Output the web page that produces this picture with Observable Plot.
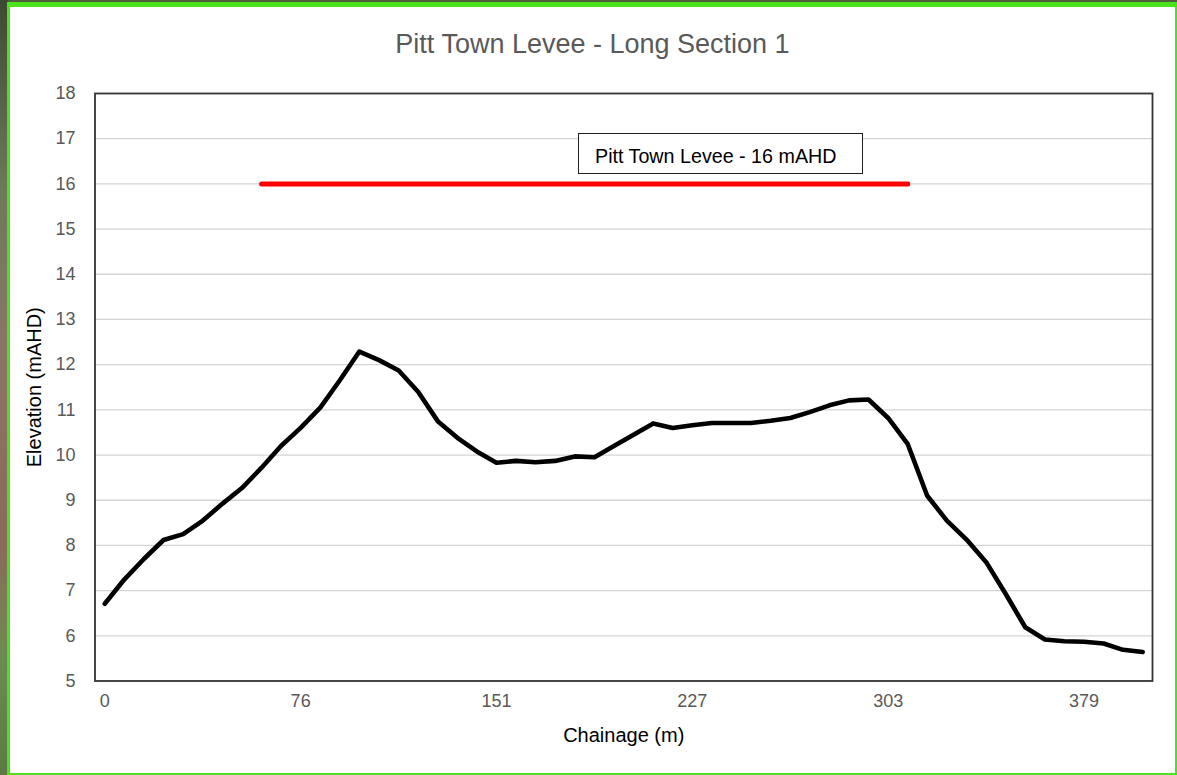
<!DOCTYPE html>
<html>
<head>
<meta charset="utf-8">
<script src="https://cdn.jsdelivr.net/npm/d3@7"></script>
<script src="https://cdn.jsdelivr.net/npm/@observablehq/plot@0.6"></script>
<style>
  html, body { margin: 0; padding: 0; width: 1177px; height: 775px; overflow: hidden; background: #4f5d3f; }
  #strip { position: absolute; left: 0; top: 0; width: 8px; height: 775px;
    background: linear-gradient(#3d4a32 0%, #6f7a5c 25%, #8a7466 45%, #8c6a5c 70%, #6d8a52 85%, #5d7a45 100%); }
  #border { position: absolute; left: 7px; top: 2px; width: 1165px; height: 766px;
    border-style: solid; border-color: #4be21b; border-width: 5px 2px 2px 3px; background: #ffffff; }
  #wrap { position: absolute; left: 0; top: 0; width: 1177px; height: 775px; }
  #title { position: absolute; left: 10px; top: 0; width: 1165px; height: 70px; box-sizing: border-box;
    padding-top: 29px; text-align: center; font-family: "Liberation Sans", Arial, sans-serif;
    font-size: 27px; line-height: 30px; color: #595959; }
  #chart { position: absolute; left: 0; top: 70px; }
  #note { position: absolute; left: 578px; top: 133px; width: 285px; height: 41px; box-sizing: border-box;
    border: 1.3px solid #1e1e1e; background: #ffffff; padding: 11px 0 0 16px;
    font-family: "Liberation Sans", Arial, sans-serif; font-size: 19.7px; line-height: 22px; color: #000; white-space: nowrap; }
</style>
</head>
<body>
<div id="strip"></div>
<div id="border"></div>
<div id="wrap">
  <div id="title"></div>
  <div id="chart"></div>
  <div id="note"></div>
</div>
<script>
// ---- data ----
const chartTitle = "Pitt Town Levee - Long Section 1";
const xLabel = "Chainage (m)";
const yLabel = "Elevation (mAHD)";
const leveeLabel = "Pitt Town Levee - 16 mAHD";

// chainage of each surveyed point (m)
const chainage = [
  0, 7.6, 15.1, 22.7, 30.3, 37.9, 45.4, 53.0, 60.6, 68.1,
  75.7, 83.3, 90.8, 98.4, 106.0, 113.6, 121.1, 128.7, 136.3, 143.8,
  151.4, 159.0, 166.5, 174.1, 181.7, 189.3, 196.8, 204.4, 212.0, 219.5,
  227.1, 234.7, 242.2, 249.8, 257.4, 265.0, 272.5, 280.1, 287.7, 295.2,
  302.8, 310.4, 317.9, 325.5, 333.1, 340.7, 348.2, 355.8, 363.4, 370.9,
  378.5, 386.1, 393.6, 401.2
];
// ground elevation (mAHD)
const elevation = [
  6.71, 7.25, 7.70, 8.12, 8.25, 8.55, 8.92, 9.27, 9.72, 10.20,
  10.60, 11.05, 11.65, 12.29, 12.10, 11.87, 11.40, 10.75, 10.38, 10.08,
  9.83, 9.87, 9.84, 9.87, 9.97, 9.95, 10.20, 10.45, 10.70, 10.60,
  10.66, 10.71, 10.71, 10.71, 10.76, 10.82, 10.95, 11.10, 11.21, 11.23,
  10.82, 10.24, 9.10, 8.55, 8.13, 7.63, 6.93, 6.19, 5.92, 5.88,
  5.87, 5.83, 5.69, 5.64
];
// levee crest line
const leveeChainage = [60.6, 310.4];
const leveeLevel = [16, 16];

// axis ticks
const xTickValues = [0, 75.7, 151.4, 227.1, 302.8, 378.5];
const xTickLabels = ["0", "76", "151", "227", "303", "379"];
const yTicks = [5, 6, 7, 8, 9, 10, 11, 12, 13, 14, 15, 16, 17, 18];

// ---- build ----
const profile = chainage.map((c, i) => ({c, e: elevation[i]}));
const levee = leveeChainage.map((c, i) => ({c, e: leveeLevel[i]}));
const step = (chainage[chainage.length - 1] - chainage[0]) / (chainage.length - 1);

document.getElementById("title").textContent = chartTitle;
document.getElementById("note").textContent = leveeLabel;

const font = "'Liberation Sans', Arial, sans-serif";
const chart = Plot.plot({
  width: 1177,
  height: 705,
  marginLeft: 94.5,
  marginRight: 25,
  marginTop: 23,
  marginBottom: 94.5,
  style: {background: "transparent", fontFamily: font, fontSize: "18px", color: "#595959", overflow: "visible"},
  x: {domain: [chainage[0] - step / 2, chainage[chainage.length - 1] + step / 2]},
  y: {domain: [yTicks[0], yTicks[yTicks.length - 1]]},
  marks: [
    Plot.gridY(yTicks.slice(1, -1), {stroke: "#d4d4d4", strokeOpacity: 1, strokeWidth: 1.3}),
    Plot.axisY(yTicks, {tickSize: 0, tickPadding: 19.5, label: null, fontSize: 18}),
    Plot.axisX(xTickValues, {tickSize: 0, tickPadding: 13, label: null, fontSize: 18,
      tickFormat: (d) => xTickLabels[xTickValues.indexOf(d)]}),
    Plot.text([xLabel], {text: d => d, frameAnchor: "bottom", lineAnchor: "bottom", dy: 60.5,
      fontSize: 20, fill: "#000000"}),
    Plot.text([yLabel], {text: d => d, frameAnchor: "left", textAnchor: "middle", lineAnchor: "middle",
      rotate: -90, dx: -60, fontSize: 20, fill: "#000000"}),
    Plot.line(levee, {x: "c", y: "e", stroke: "#ff0000", strokeWidth: 5, strokeLinecap: "round"}),
    Plot.line(profile, {x: "c", y: "e", stroke: "#000000", strokeWidth: 4.6,
      strokeLinejoin: "round", strokeLinecap: "round"}),
    Plot.frame({stroke: "#333333", strokeWidth: 1.8})
  ]
});
document.getElementById("chart").appendChild(chart);
</script>
</body>
</html>
